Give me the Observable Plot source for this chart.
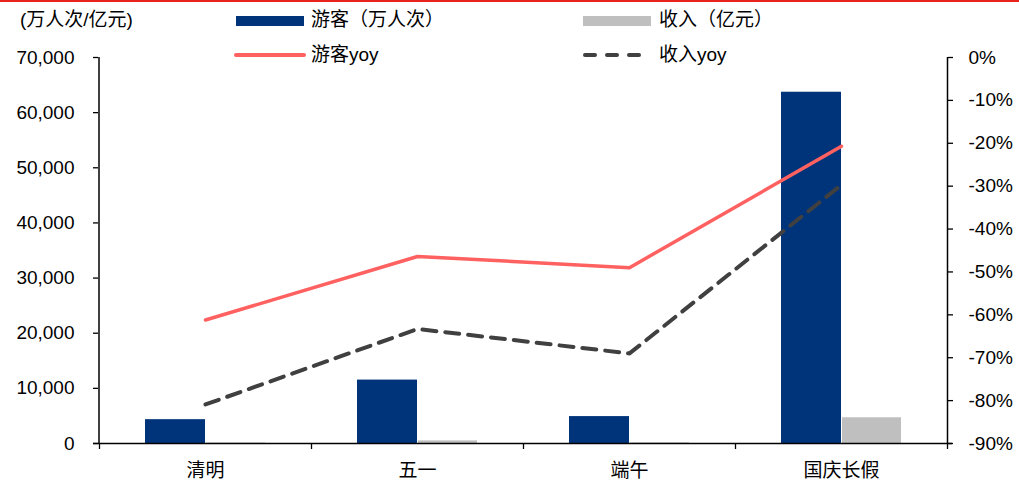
<!DOCTYPE html>
<html>
<head>
<meta charset="utf-8">
<script src="https://cdn.jsdelivr.net/npm/d3@7"></script>
<script src="https://cdn.jsdelivr.net/npm/@observablehq/plot@0.6"></script>
<style>
  body { margin: 0; background: #fff; }
  #wrap { position: relative; width: 1019px; height: 481px; overflow: hidden; font-family: "Liberation Sans", "Noto Sans CJK SC", sans-serif; color: #000; }
  #wrap svg { position: absolute; left: 0; top: 0; }
  .topline { position: absolute; left: 0; top: 0; width: 1019px; height: 2px; background: #e8231a; }
  .lab { position: absolute; font-size: 19px; line-height: 22px; white-space: nowrap; }
  .sw { position: absolute; }
</style>
</head>
<body>
<div id="wrap">
  <div class="topline"></div>
  <div class="lab" style="left:20px; top:9px;">(万人次/亿元)</div>
  <div class="sw" style="left:236px; top:16px; width:68px; height:10px; background:#00347a;"></div>
  <div class="lab" style="left:311px; top:9px;">游客（万人次）</div>
  <div class="sw" style="left:583px; top:16px; width:68px; height:10px; background:#bfbfbf;"></div>
  <div class="lab" style="left:659px; top:9px;">收入（亿元）</div>
  <svg class="sw" style="left:232px; top:48px;" width="80" height="14"><line x1="4" x2="72" y1="7" y2="7" stroke="#ff6161" stroke-width="4" stroke-linecap="round"/></svg>
  <div class="lab" style="left:311px; top:44px;">游客yoy</div>
  <svg class="sw" style="left:579px; top:48px;" width="80" height="14"><line x1="6" x2="72" y1="7" y2="7" stroke="#404040" stroke-width="4" stroke-linecap="round" stroke-dasharray="10 12"/></svg>
  <div class="lab" style="left:659px; top:44px;">收入yoy</div>
</div>
<script>
const categories = ["清明", "五一", "端午", "国庆长假"];
const visitors = [4325, 11500, 4881, 63700];      // 游客（万人次）
const revenue = [82.6, 475.6, 122.8, 4665.6];      // 收入（亿元）
const visitorsYoy = [-61.2, -46.4, -49.0, -20.7];  // 游客yoy (%)
const revenueYoy = [-80.9, -63.3, -69.0, -29.7];   // 收入yoy (%)
const leftTicks = [0, 10000, 20000, 30000, 40000, 50000, 60000, 70000];
const rightTicks = [0, -10, -20, -30, -40, -50, -60, -70, -80, -90];

const leftMax = 70000, rMin = -90, rMax = 0;
const toLeft = p => (p - rMin) / (rMax - rMin) * leftMax;
const fromLeft = v => v / leftMax * (rMax - rMin) + rMin;

const rows = categories.map((c, i) => ({
  cat: c, visitors: visitors[i], revenue: revenue[i],
  vy: toLeft(visitorsYoy[i]), ry: toLeft(revenueYoy[i])
}));

const half = 106;
const numFont = "Liberation Sans, Arial, sans-serif";

const chart = Plot.plot({
  width: 1019,
  height: 481,
  marginLeft: 98,
  marginRight: 72,
  marginTop: 57,
  marginBottom: 38,
  style: { fontFamily: "Liberation Sans, Noto Sans CJK SC, sans-serif", background: "transparent" },
  x: { domain: categories, padding: 0, axis: null, label: null },
  y: { domain: [0, leftMax], axis: null, label: null },
  marks: [
    Plot.barY(rows, { x: "cat", y: "visitors", fill: "#00347a", insetLeft: 46, insetRight: half }),
    Plot.barY(rows, { x: "cat", y: "revenue", fill: "#bfbfbf", insetLeft: half + 1, insetRight: 46 }),
    Plot.ruleY([0], { stroke: "#000", strokeWidth: 1.3, insetLeft: -5, insetRight: -5 }),
    Plot.ruleX([categories[0]], { x: d => d, dx: -half - 0.5, stroke: "#000", strokeWidth: 1.5 }),
    Plot.ruleX([categories[categories.length - 1]], { x: d => d, dx: half, stroke: "#000", strokeWidth: 1.5 }),
    Plot.ruleX(categories, { x: d => d, dx: -half, y1: 0, y2: 0, insetBottom: -6, stroke: "#000", strokeWidth: 1.3 }),
    Plot.ruleX([categories[categories.length - 1]], { x: d => d, dx: half, y1: 0, y2: 0, insetBottom: -6, stroke: "#000", strokeWidth: 1.3 }),
    Plot.lineY(rows, { x: "cat", y: "vy", stroke: "#ff6161", strokeWidth: 3.5 }),
    Plot.lineY(rows, { x: "cat", y: "ry", stroke: "#404040", strokeWidth: 4, strokeDasharray: "14 9" }),
    Plot.axisY(leftTicks, { anchor: "left", label: null, tickSize: 5, tickPadding: 19, tickFormat: d3.format(","), fontSize: 19, fontFamily: numFont, stroke: "#000", strokeWidth: 1.3, fill: "#000" }),
    Plot.axisY(rightTicks.map(toLeft), { anchor: "right", label: null, tickSize: 5, tickPadding: 16, tickFormat: v => Math.round(fromLeft(v)) + "%", fontSize: 19, fontFamily: numFont, stroke: "#000", strokeWidth: 1.3, fill: "#000" }),
    Plot.axisX(categories, { anchor: "bottom", label: null, tickSize: 0, tickPadding: 20, fontSize: 19, fontFamily: "Noto Sans CJK SC, sans-serif", fill: "#000" })
  ]
});
document.getElementById("wrap").prepend(chart);
</script>
</body>
</html>
